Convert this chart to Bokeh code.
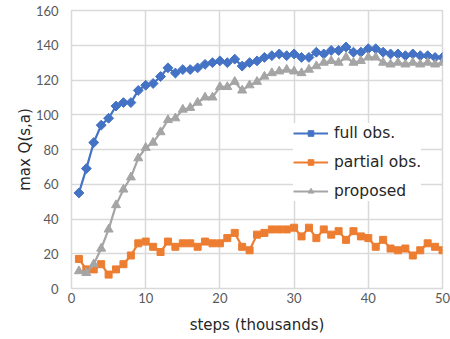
import math
from bokeh.plotting import figure
from bokeh.models import Legend, LegendItem, ColumnDataSource, Range1d, FixedTicker
from bokeh.embed import file_html
from bokeh.resources import INLINE

steps = list(range(1, 51))
full_obs = [55, 69, 84, 94, 98, 105, 107, 107, 114, 117,
            118, 122, 127, 124, 126, 126, 127, 129, 130, 131,
            130, 132, 128, 130, 131, 133, 134, 135, 134, 135,
            133, 133, 136, 135, 137, 137, 139, 136, 136, 138,
            138, 136, 135, 135, 134, 135, 134, 134, 133, 133]
partial_obs = [17, 11, 11, 14, 8, 11, 14, 19, 26, 27,
               24, 21, 27, 24, 26, 26, 24, 27, 26, 26,
               29, 32, 24, 22, 31, 32, 34, 34, 34, 35,
               30, 35, 29, 34, 31, 33, 28, 33, 30, 29,
               24, 28, 23, 22, 23, 19, 22, 26, 24, 22]
proposed = [10, 9, 14, 23, 34, 48, 57, 64, 75, 81,
            84, 90, 97, 98, 103, 104, 107, 110, 110, 116,
            116, 119, 114, 117, 119, 122, 124, 125, 126, 125,
            124, 126, 128, 130, 131, 130, 133, 130, 131, 133,
            133, 130, 129, 130, 129, 130, 129, 130, 129, 130]
series_names = ["full obs.", "partial obs.", "proposed"]
x_ticks = [0, 10, 20, 30, 40, 50]
y_ticks = [0, 20, 40, 60, 80, 100, 120, 140, 160]
x_label = "steps (thousands)"
y_label = "max Q(s,a)"

colors = ["#4472C4", "#ED7D31", "#A5A5A5"]
markers = ["square", "square", "triangle"]
angles = [math.pi / 4, 0, 0]
sizes = [7, 7, 9]

source = ColumnDataSource(dict(x=steps, full=full_obs, partial=partial_obs, prop=proposed))
cols = ["full", "partial", "prop"]

p = figure(width=450, height=339, output_backend="svg", toolbar_location=None,
           x_range=Range1d(0, 50), y_range=Range1d(0, 160),
           min_border_left=71, min_border_right=8, min_border_top=10, min_border_bottom=51)
p.background_fill_color = "white"
p.border_fill_color = "white"
p.outline_line_color = "#D9D9D9"
p.outline_line_width = 1.5

for ax in (p.xaxis, p.yaxis):
    ax.axis_line_color = None
    ax.major_tick_line_color = None
    ax.minor_tick_line_color = None
    ax.major_tick_out = 0
    ax.major_tick_in = 0
    ax.major_label_text_font = "Lato"
    ax.major_label_text_font_size = "13px"
    ax.major_label_text_color = "#595959"
    ax.axis_label_text_font = "DejaVu Sans"
    ax.axis_label_text_font_size = "15px"
    ax.axis_label_text_font_style = "normal"
    ax.axis_label_text_color = "#262626"

p.xaxis.ticker = FixedTicker(ticks=x_ticks)
p.yaxis.ticker = FixedTicker(ticks=y_ticks)
p.xaxis.axis_label = x_label
p.yaxis.axis_label = y_label
p.xaxis.major_label_standoff = 4
p.xaxis.axis_label_standoff = 10
p.yaxis.major_label_standoff = 13
p.yaxis.axis_label_standoff = -1

p.xgrid.grid_line_color = "#D9D9D9"
p.ygrid.grid_line_color = "#D9D9D9"
p.xgrid.grid_line_width = 1.5
p.ygrid.grid_line_width = 1.5

items = []
for name, col, c, m, a, s in zip(series_names, cols, colors, markers, angles, sizes):
    lr = p.line("x", col, source=source, line_color=c, line_width=2.2)
    sr = p.scatter("x", col, source=source, marker=m, angle=a, size=s,
                   fill_color=c, line_color=c)
    items.append(LegendItem(label=name, renderers=[lr, sr]))

legend = Legend(items=items, location=(222, 87),
                glyph_width=35, glyph_height=14, label_height=20,
                spacing=9, padding=6, margin=0, label_standoff=6,
                label_text_font="DejaVu Sans", label_text_font_size="15.5px",
                label_text_color="#262626",
                border_line_color=None, background_fill_color="white",
                background_fill_alpha=1.0)
p.add_layout(legend)

open("out.html", "w").write(file_html(p, INLINE))
